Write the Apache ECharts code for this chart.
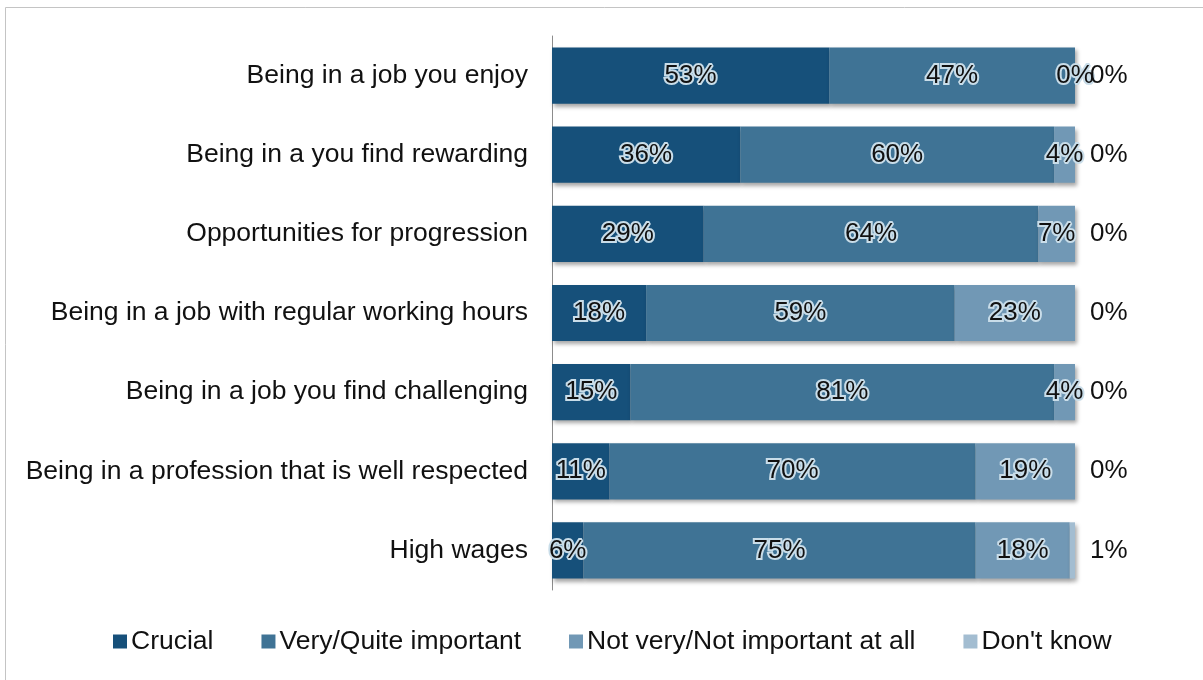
<!DOCTYPE html>
<html>
<head>
<meta charset="utf-8">
<script src="https://cdn.jsdelivr.net/npm/echarts@6/dist/echarts.min.js"></script>
<style>
  html, body { margin: 0; padding: 0; background: #ffffff; }
  #chart { width: 1203px; height: 680px; }
</style>
</head>
<body>
<div id="chart"></div>
<script>
// Job attributes, top to bottom
const categories = [
  'Being in a job you enjoy',
  'Being in a you find rewarding',
  'Opportunities for progression',
  'Being in a job with regular working hours',
  'Being in a job you find challenging',
  'Being in a profession that is well respected',
  'High wages'
];

// Share of respondents (%) per answer
const crucial       = [53, 36, 29, 18, 15, 11, 6];
const veryQuite     = [47, 60, 64, 59, 81, 70, 75];
const notImportant  = [0, 4, 7, 23, 4, 19, 18];
const dontKnow      = [0, 0, 0, 0, 0, 0, 1];

const seriesNames = ['Crucial', 'Very/Quite important', 'Not very/Not important at all', "Don't know"];
const seriesColors = ['#16507a', '#3f7395', '#7198b5', '#a3bdd1'];

const FONT = 'Liberation Sans, Arial, sans-serif';

const glowLabel = {
  show: true,
  position: 'inside',
  formatter: '{c}%',
  fontFamily: FONT,
  fontSize: 26,
  color: '#111111',
  textBorderColor: '#c9dde9',
  textBorderWidth: 4
};

const barShadow = {
  shadowColor: 'rgba(0,0,0,0.35)',
  shadowBlur: 4,
  shadowOffsetX: 2,
  shadowOffsetY: 3
};

function makeSeries(name, data, color, label) {
  return {
    name: name,
    type: 'bar',
    stack: 'total',
    data: data,
    barCategoryGap: '29%',
    itemStyle: Object.assign({ color: color }, barShadow),
    label: label,
    emphasis: { disabled: true }
  };
}

const chart = echarts.init(document.getElementById('chart'), null, { renderer: 'canvas' });

chart.setOption({
  animation: false,
  backgroundColor: '#ffffff',
  graphic: [{
    type: 'rect',
    shape: { x: 5.5, y: 7.5, width: 1400, height: 900 },
    style: { fill: 'none', stroke: '#c4c4c4', lineWidth: 1 },
    silent: true,
    z: -10
  }],
  grid: { left: 552, right: 128, top: 36, bottom: 90, containLabel: false },
  xAxis: {
    type: 'value',
    min: 0,
    max: 100,
    show: false
  },
  yAxis: {
    type: 'category',
    data: categories,
    inverse: true,
    axisLine: { show: true, lineStyle: { color: '#8c8c8c', width: 1 } },
    axisTick: { show: false },
    axisLabel: {
      fontFamily: FONT,
      fontSize: 26.5,
      color: '#111111',
      margin: 24
    }
  },
  legend: {
    bottom: 20,
    left: 108,
    itemWidth: 14,
    itemHeight: 14,
    itemGap: 48,
    icon: 'rect',
    textStyle: { fontFamily: FONT, fontSize: 26.5, color: '#111111', padding: [0, 0, 0, -1] },
    data: seriesNames
  },
  series: [
    makeSeries(seriesNames[0], crucial, seriesColors[0], glowLabel),
    makeSeries(seriesNames[1], veryQuite, seriesColors[1], glowLabel),
    makeSeries(seriesNames[2], notImportant, seriesColors[2], glowLabel),
    makeSeries(seriesNames[3], dontKnow, seriesColors[3], {
      show: true,
      position: 'right',
      distance: 15,
      formatter: '{c}%',
      fontFamily: FONT,
      fontSize: 26,
      color: '#111111'
    })
  ]
});
</script>
</body>
</html>
